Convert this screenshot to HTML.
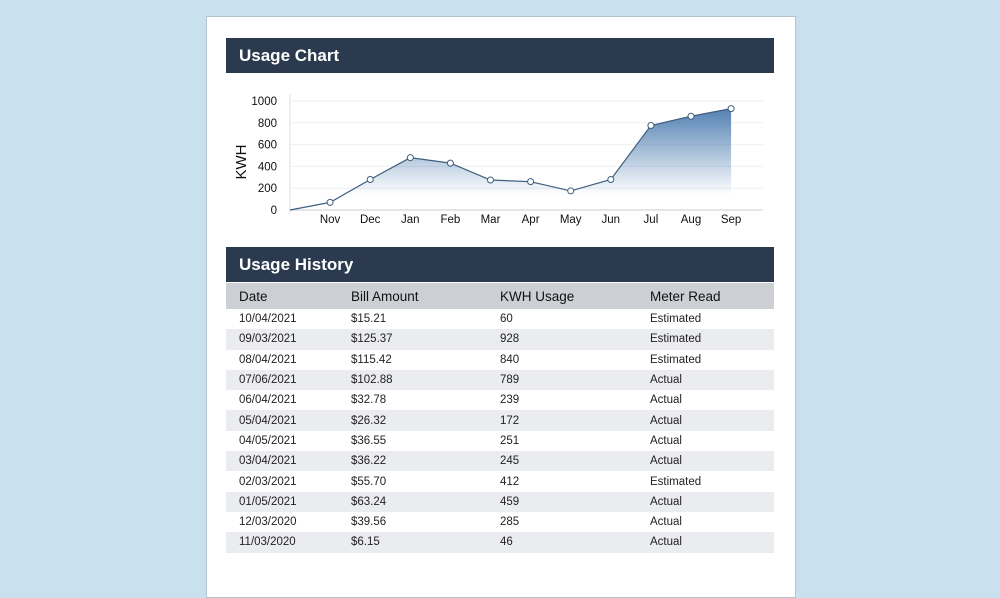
<!DOCTYPE html>
<html><head><meta charset="utf-8"><style>
body{margin:0;width:1000px;height:584px;background:#c9e0ee;font-family:"Liberation Sans",sans-serif;overflow:hidden;position:relative}
.card{position:absolute;left:206px;top:16px;width:588px;height:580px;background:#fff;border:1px solid #b5c3cc}
.bar{position:absolute;left:19px;width:548px;height:35px;background:#2b3a4e;color:#fff;font-weight:bold;font-size:17px;line-height:35px;padding-left:13px;box-sizing:border-box}
table{position:absolute;left:19px;top:266px;width:548px;border-collapse:collapse;font-size:11.5px;color:#222}
th{background:#ccd0d5;text-align:left;font-size:13.5px;font-weight:normal;height:26px;padding:0 0 0 13px;color:#111}
td{height:20.3px;padding:0 0 0 13px}
tbody tr:nth-child(even) td{background:#ebecef}
</style></head><body>
<div class="card">
<div class="bar" style="top:21px">Usage Chart</div>
<div class="bar" style="top:230px">Usage History</div>
<table>
<thead><tr><th style="width:99px">Date</th><th style="width:136px">Bill Amount</th><th style="width:137px">KWH Usage</th><th>Meter Read</th></tr></thead>
<tbody id="tb"></tbody>
</table>
</div>
<svg id="chart" width="1000" height="584" style="position:absolute;left:0;top:0">
<defs><linearGradient id="g" gradientUnits="userSpaceOnUse" x1="0" y1="101" x2="0" y2="195">
<stop offset="0" stop-color="#3a6fa8" stop-opacity="0.95"/><stop offset="1" stop-color="#3a6fa8" stop-opacity="0"/></linearGradient></defs>
</svg>
<script>
const months=["","Nov","Dec","Jan","Feb","Mar","Apr","May","Jun","Jul","Aug","Sep"];
const kwh=[0,70,280,480,430,275,260,175,280,775,860,930];
const yTicks=[0,200,400,600,800,1000];
const rowsDate=["10/04/2021","09/03/2021","08/04/2021","07/06/2021","06/04/2021","05/04/2021","04/05/2021","03/04/2021","02/03/2021","01/05/2021","12/03/2020","11/03/2020"];
const rowsBill=["$15.21","$125.37","$115.42","$102.88","$32.78","$26.32","$36.55","$36.22","$55.70","$63.24","$39.56","$6.15"];
const rowsKwh=["60","928","840","789","239","172","251","245","412","459","285","46"];
const rowsRead=["Estimated","Estimated","Estimated","Actual","Actual","Actual","Actual","Actual","Estimated","Actual","Actual","Actual"];
const tb=document.getElementById('tb');
rowsDate.forEach((d,i)=>{const tr=document.createElement('tr');


tr.innerHTML=`<td>${d}</td><td>${rowsBill[i]}</td><td>${rowsKwh[i]}</td><td>${rowsRead[i]}</td>`;tb.appendChild(tr);});
const svg=document.getElementById('chart'),NS="http://www.w3.org/2000/svg";
const x=i=>290+i*40.1, y=v=>210-v*0.109;
function mk(t,a,txt){const e=document.createElementNS(NS,t);for(const k in a)e.setAttribute(k,a[k]);if(txt!=null)e.textContent=txt;svg.appendChild(e);return e;}
yTicks.forEach(v=>{const l=mk('line',{x1:290,x2:763,y1:y(v),y2:y(v),stroke:v?'#eef0f2':'#c8ccd0'});


const t=mk('text',{x:277,y:y(v)+4,'text-anchor':'end','font-size':11.5,fill:'#111'},v);

});
mk('line',{x1:290,x2:290,y1:94,y2:214,stroke:'#dde0e3'});
months.forEach((m,i)=>{if(!m)return;const t=mk('text',{x:x(i),y:223,'text-anchor':'middle','font-size':11.5,fill:'#111'},m);

});
const yt=mk('text',{x:0,y:0,transform:'translate(246,162) rotate(-90)','text-anchor':'middle','font-size':15,fill:'#111'},'KWH');


let pts=kwh.map((v,i)=>x(i)+','+y(v)).join(' ');
const area=mk('polygon',{points:pts+' '+x(kwh.length-1)+','+y(0)+' '+x(0)+','+y(0),fill:'url(#g)'});


const ln=mk('polyline',{points:pts,fill:'none',stroke:'#3f5f7f','stroke-width':1.2});


kwh.forEach((v,i)=>{if(!i)return;const c=mk('circle',{cx:x(i),cy:y(v),r:3,fill:'#fff',stroke:'#3f5f7f','stroke-width':1});

});
</script>
</body></html>
